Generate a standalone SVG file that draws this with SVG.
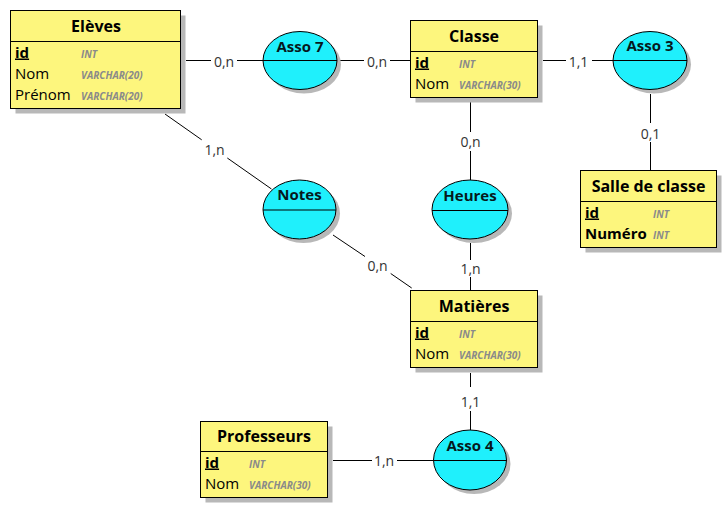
<svg xmlns="http://www.w3.org/2000/svg" width="727" height="508" viewBox="0 0 727 508">
<style>
.bg{fill:#ffffff}
.sh{fill:#b8b8b8}
.box{fill:#fdf67d;stroke:#000;stroke-width:1}
.div{stroke:#000;stroke-width:1}
.ell{fill:#1ff0fc;stroke:#000;stroke-width:1}
.t{font-family:"Open Sans","Liberation Sans",sans-serif;font-weight:bold;font-size:16px;text-anchor:middle;fill:#000}
.at{font-family:"Open Sans","Liberation Sans",sans-serif;font-weight:bold;font-size:15px;text-anchor:middle;fill:#06191c}
.a{font-family:"Open Sans","Liberation Sans",sans-serif;font-size:15px;fill:#000}
.k{font-weight:bold;text-decoration:underline}
.b{font-weight:bold}
.ty{font-family:"Open Sans","Liberation Sans",sans-serif;font-style:italic;font-weight:bold;font-size:10px;fill:#8a8a8a}
.c line{stroke:#000;stroke-width:1}
.l{font-family:"Open Sans","Liberation Sans",sans-serif;font-size:14px;fill:#333;text-anchor:middle}
</style>
<rect class="bg" x="0" y="0" width="727" height="508"/>

<g id="connectors" class="c">
  <line x1="186" y1="60.5" x2="211" y2="60.5"/>
  <line x1="237" y1="60.5" x2="263" y2="60.5"/>
  <line x1="337" y1="60.5" x2="364" y2="60.5"/>
  <line x1="390" y1="60.5" x2="411" y2="60.5"/>
  <line x1="543" y1="60.5" x2="566" y2="60.5"/>
  <line x1="592" y1="60.5" x2="613" y2="60.5"/>
  <line x1="650.5" y1="94" x2="650.5" y2="123"/>
  <line x1="650.5" y1="142" x2="650.5" y2="170"/>
  <line x1="470.5" y1="102" x2="470.5" y2="132"/>
  <line x1="470.5" y1="151" x2="470.5" y2="180"/>
  <line x1="470.5" y1="243" x2="470.5" y2="260"/>
  <line x1="470.5" y1="277" x2="470.5" y2="290"/>
  <line x1="470.5" y1="373" x2="470.5" y2="387"/>
  <line x1="470.5" y1="411" x2="470.5" y2="430"/>
  <line x1="333" y1="460.5" x2="372" y2="460.5"/>
  <line x1="397" y1="460.5" x2="434" y2="460.5"/>
  <line x1="165" y1="114" x2="201.7" y2="139.8"/>
  <line x1="227.3" y1="158" x2="271.5" y2="189"/>
  <line x1="333" y1="235" x2="365" y2="256.5"/>
  <line x1="390.7" y1="273.5" x2="411.7" y2="288"/>
  <text class="l" x="224" y="67">0,n</text>
  <text class="l" x="377" y="67">0,n</text>
  <text class="l" x="578.5" y="67">1,1</text>
  <text class="l" x="650.5" y="138.5">0,1</text>
  <text class="l" x="470.5" y="147">0,n</text>
  <text class="l" x="470.5" y="274">1,n</text>
  <text class="l" x="470.5" y="406.5">1,1</text>
  <text class="l" x="384" y="466">1,n</text>
  <text class="l" x="214.5" y="155">1,n</text>
  <text class="l" x="377.5" y="271">0,n</text>
</g>

<g id="eleves">
  <rect class="sh" x="15.5" y="15.5" width="170" height="98"/>
  <rect class="box" x="10.5" y="10.5" width="170" height="98"/>
  <line class="div" x1="10.5" y1="41.5" x2="180.5" y2="41.5"/>
  <text class="t" x="96" y="32">Elèves</text>
  <text class="a k" x="15" y="57.5">id</text>
  <text class="ty" x="81" y="57.5">INT</text>
  <text class="a" x="15" y="78.5">Nom</text>
  <text class="ty" x="81" y="78.5">VARCHAR(20)</text>
  <text class="a" x="15" y="99.5">Prénom</text>
  <text class="ty" x="81" y="99.5">VARCHAR(20)</text>
</g>

<g id="classe">
  <rect class="sh" x="415.5" y="25.5" width="127" height="77"/>
  <rect class="box" x="410.5" y="20.5" width="127" height="77"/>
  <line class="div" x1="410.5" y1="51.5" x2="537.5" y2="51.5"/>
  <text class="t" x="474" y="42">Classe</text>
  <text class="a k" x="415" y="67.5">id</text>
  <text class="ty" x="459" y="67.5">INT</text>
  <text class="a" x="415" y="88.5">Nom</text>
  <text class="ty" x="459" y="88.5">VARCHAR(30)</text>
</g>

<g id="salle">
  <rect class="sh" x="585.5" y="175.5" width="136" height="77"/>
  <rect class="box" x="580.5" y="170.5" width="136" height="77"/>
  <line class="div" x1="580.5" y1="201.5" x2="716.5" y2="201.5"/>
  <text class="t" x="648.5" y="192">Salle de classe</text>
  <text class="a k" x="585" y="217.5">id</text>
  <text class="ty" x="653" y="217.5">INT</text>
  <text class="a b" x="585" y="238.5">Numéro</text>
  <text class="ty" x="653" y="238.5">INT</text>
</g>

<g id="matieres">
  <rect class="sh" x="415.5" y="295.5" width="127" height="77"/>
  <rect class="box" x="410.5" y="290.5" width="127" height="77"/>
  <line class="div" x1="410.5" y1="321.5" x2="537.5" y2="321.5"/>
  <text class="t" x="474" y="312">Matières</text>
  <text class="a k" x="415" y="337.5">id</text>
  <text class="ty" x="459" y="337.5">INT</text>
  <text class="a" x="415" y="358.5">Nom</text>
  <text class="ty" x="459" y="358.5">VARCHAR(30)</text>
</g>

<g id="professeurs">
  <rect class="sh" x="205.5" y="426.5" width="127" height="76"/>
  <rect class="box" x="200.5" y="421.5" width="127" height="76"/>
  <line class="div" x1="200.5" y1="451.5" x2="327.5" y2="451.5"/>
  <text class="t" x="264" y="442">Professeurs</text>
  <text class="a k" x="205" y="467.5">id</text>
  <text class="ty" x="249" y="467.5">INT</text>
  <text class="a" x="205" y="488.5">Nom</text>
  <text class="ty" x="249" y="488.5">VARCHAR(30)</text>
</g>

<g id="asso7">
  <ellipse class="sh" cx="304" cy="64.5" rx="37" ry="29"/>
  <ellipse class="ell" cx="300" cy="60.5" rx="37" ry="29"/>
  <line class="div" x1="263" y1="60.5" x2="337" y2="60.5"/>
  <text class="at" x="300" y="52">Asso 7</text>
</g>

<g id="asso3">
  <ellipse class="sh" cx="654" cy="64.5" rx="37" ry="29"/>
  <ellipse class="ell" cx="650" cy="60.5" rx="37" ry="29"/>
  <line class="div" x1="613" y1="60.5" x2="687" y2="60.5"/>
  <text class="at" x="650" y="51">Asso 3</text>
</g>

<g id="heures">
  <ellipse class="sh" cx="474" cy="213.5" rx="38" ry="29.5"/>
  <ellipse class="ell" cx="470" cy="209.5" rx="38" ry="29.5"/>
  <line class="div" x1="432" y1="210.5" x2="508" y2="210.5"/>
  <text class="at" x="470" y="201">Heures</text>
</g>

<g id="notes">
  <ellipse class="sh" cx="303.5" cy="213.5" rx="36.5" ry="29.5"/>
  <ellipse class="ell" cx="299.5" cy="209.5" rx="36.5" ry="29.5"/>
  <line class="div" x1="263" y1="210" x2="336" y2="210"/>
  <text class="at" x="299.5" y="200">Notes</text>
</g>

<g id="asso4">
  <ellipse class="sh" cx="474" cy="464" rx="36.5" ry="30"/>
  <ellipse class="ell" cx="470" cy="460" rx="36.5" ry="30"/>
  <line class="div" x1="433.5" y1="460.5" x2="506.5" y2="460.5"/>
  <text class="at" x="470" y="451">Asso 4</text>
</g>
</svg>
